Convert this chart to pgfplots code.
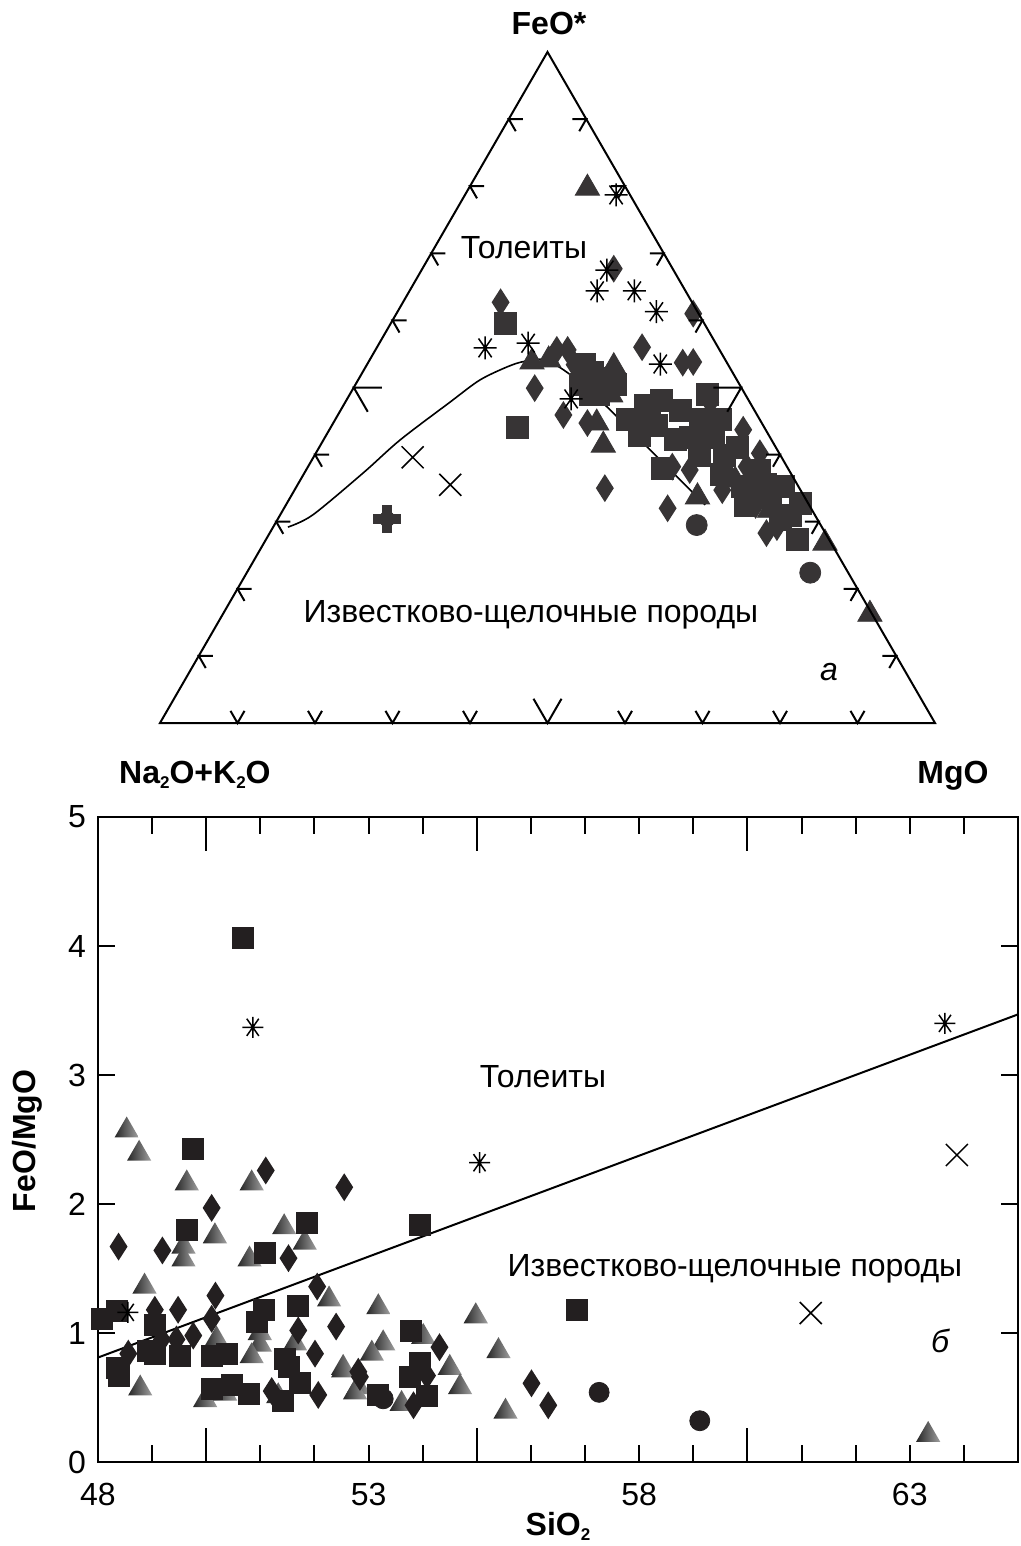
\documentclass[border=0pt]{standalone}
\usepackage{pgfplots}
\pgfplotsset{compat=1.18}
\usepackage{pgfplotstable}
\usepackage{fontspec}
\setmainfont{Liberation Sans}

\newcommand{\fs}{\fontsize{16pt}{19pt}\selectfont}
\newcommand{\sub}[1]{\raisebox{-2.5pt}{\fontsize{8.5pt}{9pt}\selectfont #1}}

\definecolor{tmark}{HTML}{373435}
\definecolor{bmark}{HTML}{231F20}
\definecolor{tridark}{HTML}{262626}
\definecolor{trilight}{HTML}{A0A0A0}

% marks
\pgfdeclarehorizontalshading{trigrad}{100bp}{color(0bp)=(tridark); color(25bp)=(tridark); color(75bp)=(trilight); color(100bp)=(trilight)}
\pgfdeclareplotmark{gtri}{%
  \pgfpathmoveto{\pgfqpointpolar{90}{\pgfplotmarksize}}%
  \pgfpathlineto{\pgfqpointpolar{210}{\pgfplotmarksize}}%
  \pgfpathlineto{\pgfqpointpolar{330}{\pgfplotmarksize}}%
  \pgfpathclose
  \pgfshadepath{trigrad}{0}%
  \pgfusepath{}%
}
\pgfdeclareplotmark{dia}{%
  \pgfpathmoveto{\pgfqpoint{0pt}{\pgfplotmarksize}}%
  \pgfpathlineto{\pgfqpoint{.64\pgfplotmarksize}{0pt}}%
  \pgfpathlineto{\pgfqpoint{0pt}{-\pgfplotmarksize}}%
  \pgfpathlineto{\pgfqpoint{-.64\pgfplotmarksize}{0pt}}%
  \pgfpathclose\pgfusepathqfill
}
\pgfdeclareplotmark{ast8}{%
  \pgfpathmoveto{\pgfqpoint{-\pgfplotmarksize}{0pt}}\pgfpathlineto{\pgfqpoint{\pgfplotmarksize}{0pt}}%
  \pgfpathmoveto{\pgfqpoint{0pt}{-\pgfplotmarksize}}\pgfpathlineto{\pgfqpoint{0pt}{\pgfplotmarksize}}%
  \pgfpathmoveto{\pgfqpointpolar{55}{\pgfplotmarksize}}\pgfpathlineto{\pgfqpointpolar{235}{\pgfplotmarksize}}%
  \pgfpathmoveto{\pgfqpointpolar{125}{\pgfplotmarksize}}\pgfpathlineto{\pgfqpointpolar{305}{\pgfplotmarksize}}%
  \pgfusepathqstroke
}
\pgfdeclareplotmark{xx}{%
  \pgfpathmoveto{\pgfqpoint{-\pgfplotmarksize}{-\pgfplotmarksize}}\pgfpathlineto{\pgfqpoint{\pgfplotmarksize}{\pgfplotmarksize}}%
  \pgfpathmoveto{\pgfqpoint{-\pgfplotmarksize}{\pgfplotmarksize}}\pgfpathlineto{\pgfqpoint{\pgfplotmarksize}{-\pgfplotmarksize}}%
  \pgfusepathqstroke
}
\pgfdeclareplotmark{fplus}{%
  \pgfpathrectangle{\pgfqpoint{-\pgfplotmarksize}{-.36\pgfplotmarksize}}{\pgfqpoint{2\pgfplotmarksize}{.72\pgfplotmarksize}}\pgfusepathqfill
  \pgfpathrectangle{\pgfqpoint{-.36\pgfplotmarksize}{-\pgfplotmarksize}}{\pgfqpoint{.72\pgfplotmarksize}{2\pgfplotmarksize}}\pgfusepathqfill
  \pgfpathcircle{\pgfpointorigin}{.58\pgfplotmarksize}\pgfusepathqfill
}

% ---- AFM diagram, wt% (A = Na2O+K2O, F = FeO*, M = MgO)
\pgfplotstableread{
A F M
25.7 59.5 14.8
31.9 44.0 24.1
18.0 52.3 29.7
20.6 50.4 29.0
19.0 48.9 32.1
17.1 45.2 37.7
16.7 42.9 40.4
13.7 44.4 41.9
11.2 48.1 40.7
9.6 46.6 43.8
4.9 48.9 46.2
10.3 42.6 47.1
7.3 42.6 50.1
5.0 41.1 53.9
16.2 38.0 45.8
9.0 37.0 54.0
7.2 35.2 57.6
4.4 33.7 61.9
2.0 35.2 62.8
1.0 32.8 66.2
4.1 27.3 68.6
3.2 31.0 65.8
13.7 47.4 38.9
7.7 45.2 47.1
3.8 37.7 58.5
13.9 45.9 40.2
12.4 42.2 45.4
10.4 39.9 49.7
7.2 39.9 52.9
8.2 32.5 59.3
4.8 30.3 64.9
4.1 35.5 60.4
5.1 45.2 49.7
16.1 50.4 33.5
18.5 53.4 28.1
16.2 51.4 32.4
20.0 48.9 31.1
}\ternSq
\pgfplotstableread{
A F M
24.7 62.7 12.6
7.6 67.7 24.7
0.7 61.0 38.3
9.8 56.0 34.2
5.7 53.7 40.6
4.3 53.8 41.9
21.0 55.6 23.4
19.6 55.6 24.8
26.7 49.9 23.4
25.0 45.9 29.1
22.5 44.7 32.8
25.1 35.0 39.9
18.5 32.0 49.5
2.9 43.7 53.4
10.1 34.7 55.2
5.2 38.2 56.6
2.5 40.2 57.3
5.8 29.2 65.0
7.6 28.3 64.1
14.8 38.2 47.0
5.1 47.8 47.1
12.8 37.7 49.5
6.9 32.5 60.6
19.8 53.4 26.8
}\ternDia
\pgfplotstableread{
A F M
5.0 79.7 15.3
25.1 53.8 21.1
14.9 53.1 32.0
21.3 44.7 34.0
22.1 41.4 36.5
13.8 33.7 52.5
0.8 26.8 72.4
0.3 16.2 83.5
22.8 54.1 23.1
17.4 48.9 33.7
7.7 36.2 56.1
5.5 31.7 62.8
}\ternTri
\pgfplotstableread{
A F M
1.8 78.7 19.5
8.6 67.5 23.9
11.4 64.4 24.2
6.6 64.4 29.0
5.3 61.3 33.4
30.1 55.9 14.0
24.2 56.6 19.2
8.7 53.5 37.8
22.8 48.3 28.9
}\ternAst
\pgfplotstableread{
A F M
47.6 39.6 12.8
44.8 35.5 19.7
}\ternX
\pgfplotstableread{
A F M
16.0 29.5 54.5
4.9 22.4 72.7
}\ternCirc
\pgfplotstableread{
A F M
55.5 30.4 14.1
}\ternPlus
% boundary of tholeiitic and calc-alkaline fields
\pgfplotstableread{
A F M
68.9 29.2 1.9
64.8 31.0 4.2
55.1 37.3 7.6
47.9 42.2 9.9
38.7 47.8 13.5
33.2 51.1 15.7
28.6 53.1 18.3
26.0 53.9 20.1
23.2 54.1 22.7
21.1 51.9 27.0
19.2 48.1 32.7
18.2 45.6 36.2
14.4 35.2 50.4
13.4 32.5 54.1
}\ternCurve

% ---- FeO*/MgO vs SiO2
\pgfplotstableread{
x y
50.68 4.06
49.76 2.43
49.65 1.80
51.86 1.85
51.09 1.62
53.95 1.84
56.85 1.18
48.07 1.11
48.35 1.17
49.05 1.06
51.07 1.18
51.69 1.21
50.93 1.09
49.05 0.84
48.93 0.86
49.52 0.82
48.35 0.73
48.38 0.67
50.10 0.82
50.38 0.84
51.46 0.80
51.52 0.74
50.10 0.57
50.47 0.60
50.78 0.53
51.73 0.61
51.42 0.47
53.78 1.02
53.95 0.77
53.76 0.66
53.18 0.52
54.07 0.51
}\botSq
\pgfplotstableread{
x y
51.10 2.26
52.55 2.13
50.10 1.97
48.38 1.67
49.19 1.64
51.52 1.58
52.05 1.36
49.05 1.18
49.48 1.18
50.17 1.29
50.10 1.11
51.70 1.02
52.40 1.05
48.56 0.84
49.45 0.95
49.76 0.98
52.01 0.84
49.18 0.95
51.21 0.55
52.07 0.52
52.81 0.70
54.31 0.89
54.08 0.67
52.84 0.66
53.83 0.44
56.01 0.61
56.32 0.44
}\botDia
\pgfplotstableread{
x y
48.53 2.57
48.76 2.39
49.64 2.16
50.84 2.16
51.44 1.82
51.82 1.70
50.16 1.75
49.58 1.67
49.58 1.57
50.80 1.57
48.86 1.36
52.27 1.26
50.19 0.95
50.99 1.00
50.99 0.91
50.84 0.82
52.53 0.73
51.64 0.92
48.78 0.57
49.98 0.48
50.35 0.53
52.81 0.58
51.33 0.51
53.18 1.20
54.98 1.13
53.27 0.92
53.06 0.84
54.01 0.97
55.40 0.86
54.50 0.73
54.69 0.58
52.53 0.71
53.61 0.45
52.75 0.54
55.53 0.39
63.34 0.21
}\botTri
\pgfplotstableread{
x y
50.86 3.37
55.05 2.32
63.65 3.40
48.55 1.16
}\botAst
\pgfplotstableread{
x y
63.87 2.38
61.17 1.155
}\botX
\pgfplotstableread{
x y
53.27 0.49
57.26 0.54
59.12 0.32
}\botCirc

\begin{document}
\begin{tikzpicture}
% ternary (AFM)
\begin{axis}[
    at={(80pt,-361.5pt)}, anchor=south west,
    scale only axis, width=387.5pt, height=335.5pt,
    xmin=0, xmax=100, ymin=0, ymax=86.6025,
    hide axis, clip=false,
    every axis plot/.append style={only marks}
  ]
  \addplot[no marks, sharp plot, smooth, black, line width=0.8pt]
    table[x expr=\thisrow{M}+0.5*\thisrow{F}, y expr=0.8660254*\thisrow{F}] {\ternCurve};
  \addplot[mark=triangle*, mark size=7pt, color=tmark]
    table[x expr=\thisrow{M}+0.5*\thisrow{F}, y expr=0.8660254*\thisrow{F}] {\ternTri};
  \addplot[mark=square*, mark size=5.5pt, color=tmark]
    table[x expr=\thisrow{M}+0.5*\thisrow{F}, y expr=0.8660254*\thisrow{F}] {\ternSq};
  \addplot[mark=dia, mark size=7pt, color=tmark]
    table[x expr=\thisrow{M}+0.5*\thisrow{F}, y expr=0.8660254*\thisrow{F}] {\ternDia};
  \addplot[mark=*, mark size=5.25pt, color=tmark]
    table[x expr=\thisrow{M}+0.5*\thisrow{F}, y expr=0.8660254*\thisrow{F}] {\ternCirc};
  \addplot[mark=fplus, mark size=7pt, color=tmark]
    table[x expr=\thisrow{M}+0.5*\thisrow{F}, y expr=0.8660254*\thisrow{F}] {\ternPlus};
  \addplot[mark=ast8, mark size=5.75pt, black, mark options={line width=0.75pt}]
    table[x expr=\thisrow{M}+0.5*\thisrow{F}, y expr=0.8660254*\thisrow{F}] {\ternAst};
  \addplot[mark=xx, mark size=5.5pt, black, mark options={line width=0.75pt}]
    table[x expr=\thisrow{M}+0.5*\thisrow{F}, y expr=0.8660254*\thisrow{F}] {\ternX};
\end{axis}

% FeO*/MgO - SiO2
\begin{axis}[
    at={(49pt,-731pt)}, anchor=south west,
    scale only axis, width=460pt, height=322.5pt,
    xmin=48, xmax=65, ymin=0, ymax=5,
    clip=false,
    axis line style={line width=1pt},
    tick style={line width=1pt, black},
    tick align=inside,
    major tick length=8.5pt, minor tick length=8.5pt,
    xtick={48,53,58,63},
    minor xtick={49,...,64},
    extra x ticks={50,55,60},
    extra x tick labels={},
    extra x tick style={major tick length=17pt},
    ytick={0,1,2,3,4,5},
    tick label style={font=\fs, /pgf/number format/assume math mode=true},
    xticklabel style={yshift=-7pt},
    yticklabel style={xshift=-2.5pt},
    every axis plot/.append style={only marks}
  ]
  \addplot[no marks, sharp plot, black, line width=1pt] coordinates {(48,0.81) (65,3.47)};
  \addplot[mark=gtri, mark size=7pt] table {\botTri};
  \addplot[mark=square*, mark size=5.25pt, color=bmark] table {\botSq};
  \addplot[mark=dia, mark size=7pt, color=bmark] table {\botDia};
  \addplot[mark=*, mark size=5pt, color=bmark] table {\botCirc};
  \addplot[mark=ast8, mark size=5.25pt, black, mark options={line width=0.75pt}] table {\botAst};
  \addplot[mark=xx, mark size=5.5pt, black, mark options={line width=0.75pt}] table {\botX};
\end{axis}

\begin{scope}[x=0.5pt, y=-0.5pt]
  % triangle frame and ticks
  \draw[line width=1pt, line join=miter] (160,723) -- (935,723) -- (547.5,52) -- cycle;
  \foreach \i in {1,...,9}{
    \pgfmathsetmacro{\tlen}{ifthenelse(\i==5,14,7)}
    \draw[line width=1pt] (160+77.5*\i,723) +(60:\tlen pt) -- +(0,0) -- +(120:\tlen pt);
    \draw[line width=1pt] (160+38.75*\i,723-67.1*\i) +(0:\tlen pt) -- +(0,0) -- +(-60:\tlen pt);
    \draw[line width=1pt] (935-38.75*\i,723-67.1*\i) +(180:\tlen pt) -- +(0,0) -- +(240:\tlen pt);
  }
  \node[anchor=base, inner sep=0, font=\bfseries\fs] at (549,35) {FeO*};
  \node[anchor=base east, inner sep=0, font=\bfseries\fs] at (271,783) {Na\sub{2}O+K\sub{2}O};
  \node[anchor=base west, inner sep=0, font=\bfseries\fs] at (917,783) {MgO};
  \node[anchor=base, inner sep=0, font=\fs] at (524,258) {Толеиты};
  \node[anchor=base, inner sep=0, font=\fs] at (531,622) {Известково-щелочные породы};
  \node[anchor=base, inner sep=0, font=\itshape\fs] at (829,680) {а};
  % lower diagram texts
  \node[anchor=base, inner sep=0, font=\fs] at (543,1087) {Толеиты};
  \node[anchor=base, inner sep=0, font=\fs] at (735,1276) {Известково-щелочные породы};
  \node[anchor=base, inner sep=0, font=\itshape\fs] at (940,1352) {б};
  \node[anchor=base, inner sep=0, font=\bfseries\fs] at (558,1535) {SiO\sub{2}};
  \node[anchor=base, inner sep=0, rotate=90, font=\bfseries\fs] at (35,1141) {FeO/MgO};
  \pgfresetboundingbox
  \path[use as bounding box] (0,0) rectangle (1021,1546);
\end{scope}
\end{tikzpicture}
\end{document}
